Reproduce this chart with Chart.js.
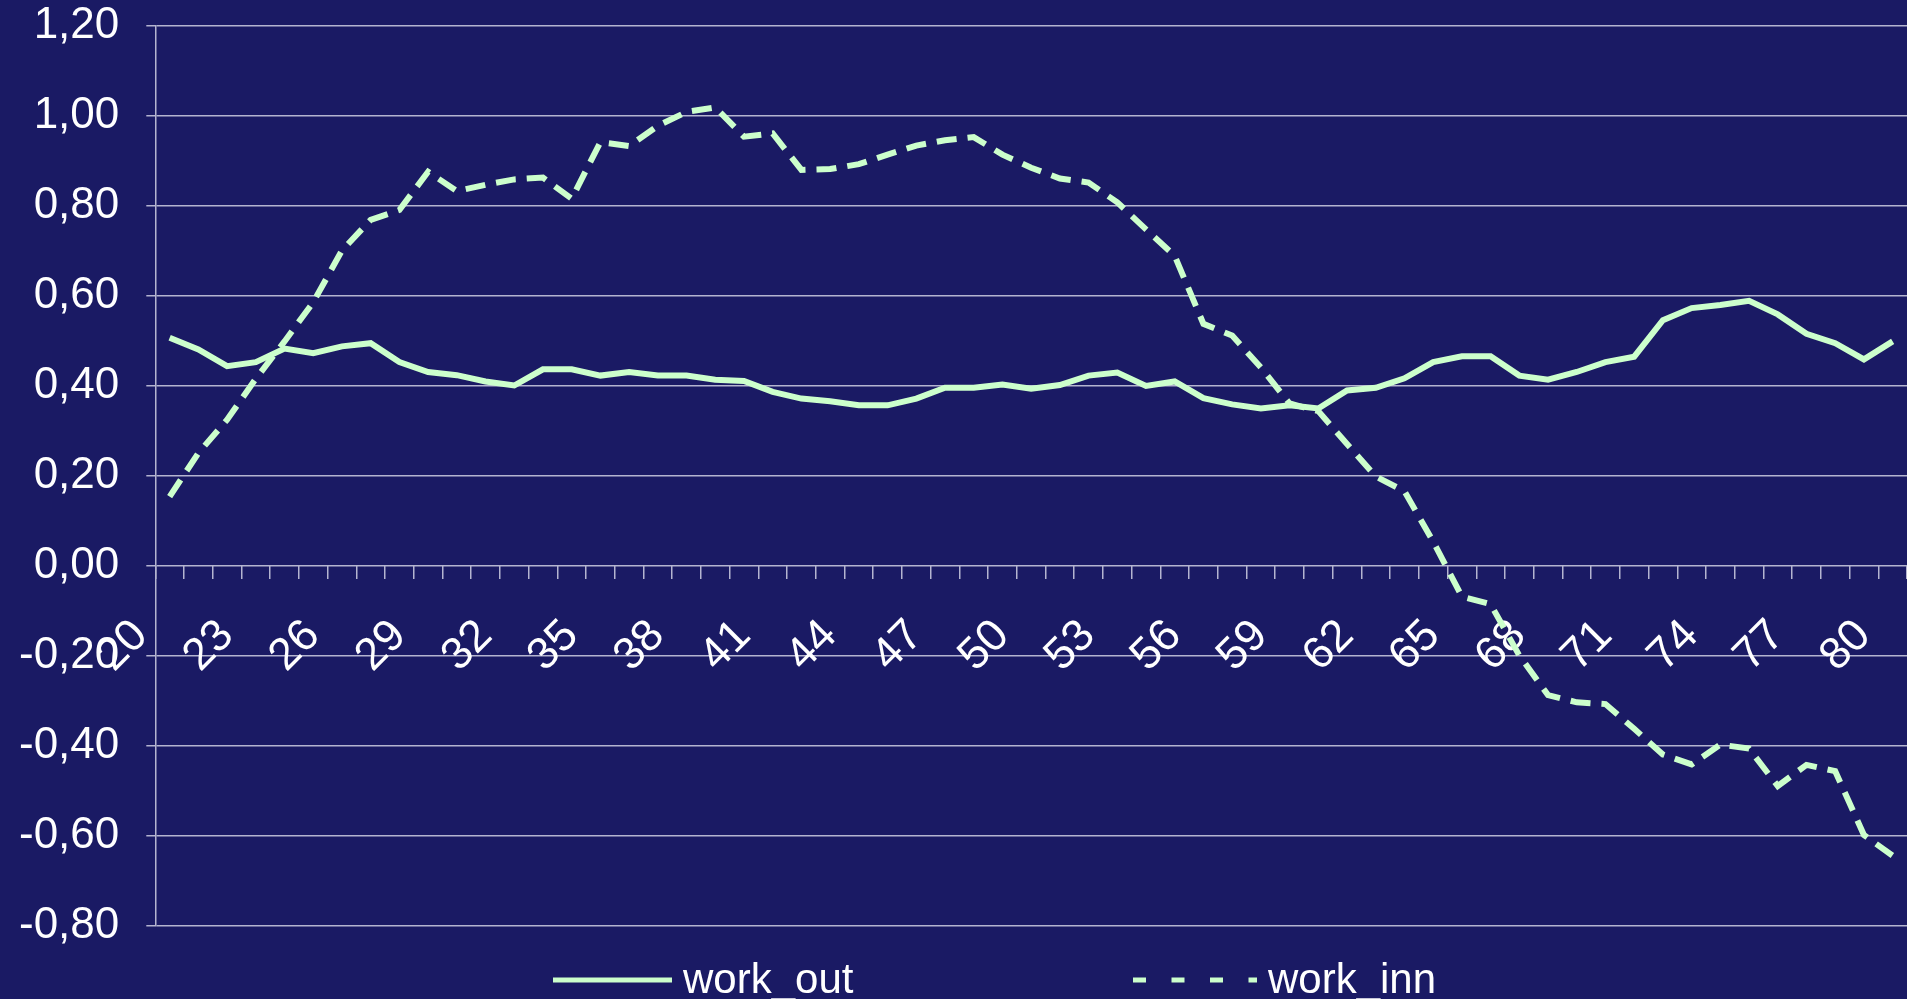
<!DOCTYPE html>
<html>
<head>
<meta charset="utf-8">
<script src="https://cdn.jsdelivr.net/npm/chart.js@4.4.0/dist/chart.umd.min.js"></script>
<style>
  html, body { margin: 0; padding: 0; background: #1a1a64; overflow: hidden; }
  canvas { display: block; }
</style>
</head>
<body>
<canvas id="chart" width="1907" height="999"></canvas>
<script>
const ages = ['20', '21', '22', '23', '24', '25', '26', '27', '28', '29',
  '30', '31', '32', '33', '34', '35', '36', '37', '38', '39',
  '40', '41', '42', '43', '44', '45', '46', '47', '48', '49',
  '50', '51', '52', '53', '54', '55', '56', '57', '58', '59',
  '60', '61', '62', '63', '64', '65', '66', '67', '68', '69',
  '70', '71', '72', '73', '74', '75', '76', '77', '78', '79', '80']

const workOut = [0.506, 0.480, 0.443, 0.452, 0.482, 0.472, 0.487, 0.494, 0.452, 0.430,
  0.423, 0.409, 0.400, 0.436, 0.436, 0.422, 0.430, 0.422, 0.422, 0.413,
  0.410, 0.386, 0.371, 0.365, 0.356, 0.356, 0.371, 0.395, 0.395, 0.402,
  0.393, 0.401, 0.422, 0.429, 0.399, 0.409, 0.372, 0.358, 0.349, 0.356,
  0.349, 0.389, 0.395, 0.416, 0.452, 0.465, 0.465, 0.422, 0.413, 0.430,
  0.452, 0.464, 0.545, 0.572, 0.579, 0.588, 0.558, 0.515, 0.494, 0.458, 0.498]

const workInn = [0.153, 0.250, 0.324, 0.415, 0.498, 0.585, 0.700, 0.768, 0.790, 0.875,
  0.832, 0.846, 0.858, 0.862, 0.815, 0.941, 0.932, 0.977, 1.008, 1.018,
  0.953, 0.960, 0.879, 0.881, 0.892, 0.913, 0.933, 0.945, 0.952, 0.913,
  0.884, 0.860, 0.851, 0.807, 0.747, 0.688, 0.537, 0.511, 0.440, 0.360,
  0.343, 0.270, 0.198, 0.165, 0.053, -0.069, -0.086, -0.200, -0.288, -0.304,
  -0.308, -0.363, -0.420, -0.442, -0.398, -0.407, -0.490, -0.443, -0.457, -0.599, -0.645]

const seriesNames = ['work_out', 'work_inn']

const lineColor = '#ccffcc'
const gridColor = '#b4b4d0'
const fontFamily = "'Liberation Sans', Arial, sans-serif"

// legend under the plot, drawn by hand so the two items sit far apart like the original
const bottomLegend = {
  id: 'bottomLegend',
  afterDraw(chart, args, opts) {
    const ctx = chart.ctx
    ctx.save()
    chart.data.datasets.forEach((ds, i) => {
      const x = opts.x[i]
      ctx.strokeStyle = ds.borderColor
      ctx.lineWidth = 5
      ctx.setLineDash(i === 1 ? [13, 25.5] : [])
      ctx.beginPath()
      ctx.moveTo(x, opts.lineY)
      ctx.lineTo(x + opts.sample[i], opts.lineY)
      ctx.stroke()
      ctx.setLineDash([])
      ctx.fillStyle = '#ffffff'
      ctx.font = '42px ' + fontFamily
      ctx.textBaseline = 'alphabetic'
      ctx.fillText(ds.label, x + opts.sample[i] + 11, opts.textY)
    })
    ctx.restore()
  },
}

// keep the big tick paddings from eating into the plot area
const noSidePadding = (scale) => {
  scale.paddingLeft = 0
  scale.paddingRight = 0
  scale.paddingTop = 0
  scale.paddingBottom = 0
}

new Chart('chart', {
  type: 'line',
  data: {
    labels: ages,
    datasets: [
      {
        label: seriesNames[0],
        data: workOut,
        borderColor: lineColor,
        borderWidth: 6,
        pointRadius: 0,
        tension: 0,
      },
      {
        label: seriesNames[1],
        data: workInn,
        borderColor: lineColor,
        borderWidth: 6,
        borderDash: [20, 11],
        pointRadius: 0,
        tension: 0,
      },
    ],
  },
  options: {
    responsive: false,
    animation: false,
    layout: {
      padding: { left: 19, top: 0, right: 0, bottom: 73.5 },
    },
    plugins: {
      legend: { display: false },
      tooltip: { enabled: false },
      bottomLegend: { x: [553, 1133], sample: [119, 124], lineY: 980, textY: 993 },
    },
    scales: {
      y: {
        min: -0.8,
        max: 1.2,
        ticks: {
          stepSize: 0.2,
          color: '#ffffff',
          padding: 27,
          font: { family: fontFamily, size: 44, lineHeight: 1.16 },
          callback: (v) => (Math.abs(v) < 1e-9 ? 0 : v).toFixed(2).replace('.', ','),
        },
        grid: { color: gridColor, lineWidth: 1.5, tickLength: 9 },
        border: { display: true, color: gridColor, width: 1.5 },
        afterFit: (scale) => {
          // padding is counted twice in the width, take one back
          scale.width -= 27
          scale.paddingTop = 25.5
          scale.paddingBottom = 25.5
        },
      },
      // tick marks along the zero line
      x: {
        position: { y: 0 },
        offset: true,
        ticks: { display: false, autoSkip: false },
        grid: { offset: true, drawOnChartArea: false, tickLength: 13, color: gridColor, lineWidth: 1.5 },
        border: { display: false },
        afterFit: noSidePadding,
      },
      // rotated age labels, every third year
      xl: {
        type: 'category',
        position: { y: 0 },
        offset: true,
        ticks: {
          autoSkip: false,
          maxRotation: 45,
          minRotation: 45,
          padding: 0,
          labelOffset: -29,
          color: '#ffffff',
          font: { family: fontFamily, size: 45, lineHeight: 0.5 },
          callback: (v, i) => (i % 3 === 0 ? ages[i] : ''),
        },
        grid: { offset: true, drawOnChartArea: false, tickLength: 55, tickColor: 'transparent' },
        border: { display: false },
        afterFit: noSidePadding,
      },
    },
  },
  plugins: [bottomLegend],
})
</script>
</body>
</html>
